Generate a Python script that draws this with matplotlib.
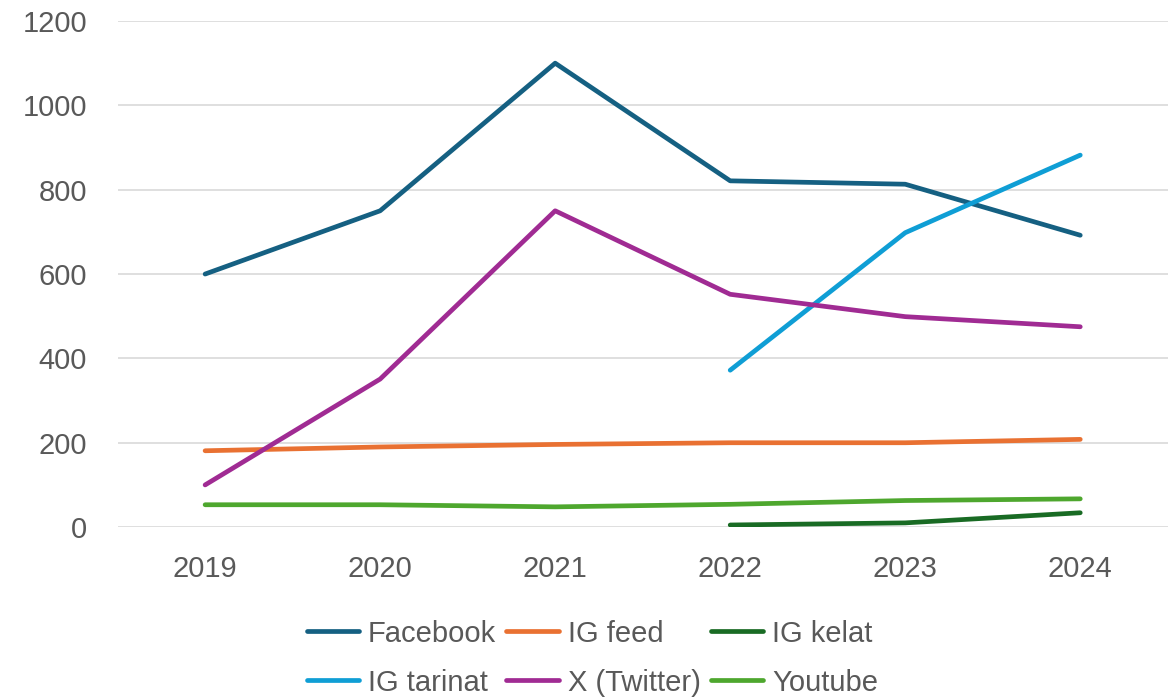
import numpy as np
import matplotlib
matplotlib.use('Agg')
import matplotlib.pyplot as plt

# data
vuodet = ['2019', '2020', '2021', '2022', '2023', '2024']
facebook = [600, 750, 1100, 821, 813, 692]
ig_feed = [181, 190, 196, 200, 200, 208]
ig_kelat = [np.nan, np.nan, np.nan, 5, 10, 34]
ig_tarinat = [np.nan, np.nan, np.nan, 372, 698, 882]
x_twitter = [100, 351, 750, 552, 499, 475]
youtube = [53, 53, 48, 54, 63, 67]

sarjat = [
    ('Facebook', facebook, '#156082'),
    ('IG feed', ig_feed, '#E97132'),
    ('IG kelat', ig_kelat, '#196B24'),
    ('IG tarinat', ig_tarinat, '#0F9ED5'),
    ('X (Twitter)', x_twitter, '#A02B93'),
    ('Youtube', youtube, '#4EA72E'),
]

plt.rcParams['font.family'] = ['Liberation Sans', 'DejaVu Sans']
teksti = '#595959'

fig = plt.figure(figsize=(11.76, 7), dpi=100)
ax = fig.add_axes([0.100, 0.247, 0.893, 0.723])

x = np.arange(len(vuodet))
viivat = []
for nimi, arvot, vari in sarjat:
    l, = ax.plot(x, arvot, color=vari, lw=3.4, label=nimi,
                 solid_capstyle='round', solid_joinstyle='round')
    viivat.append(l)

ax.set_xlim(-0.5, len(vuodet) - 0.5)
ax.set_ylim(0, 1200)
ax.set_yticks(range(0, 1201, 200))
ax.set_xticks(x)
ax.set_xticklabels(vuodet)
ax.grid(axis='y', color='#D9D9D9', lw=1.2)
ax.set_axisbelow(True)
for s in ax.spines.values():
    s.set_visible(False)
ax.tick_params(length=0, labelsize=21, colors=teksti)
ax.tick_params(axis='x', pad=20)
ax.tick_params(axis='y', pad=22)

# legend goes row by row, matplotlib fills columns -> reorder
jarj = [0, 3, 1, 4, 2, 5]
leg = ax.legend([viivat[i] for i in jarj], [sarjat[i][0] for i in jarj],
                loc='upper center', bbox_to_anchor=(0.452, -0.131), ncol=3,
                frameon=False, fontsize=21, handlelength=1.8,
                handletextpad=0.3, columnspacing=0.35, labelspacing=0.72)
for t in leg.get_texts():
    t.set_color(teksti)

fig.savefig('out.png', dpi=100)
